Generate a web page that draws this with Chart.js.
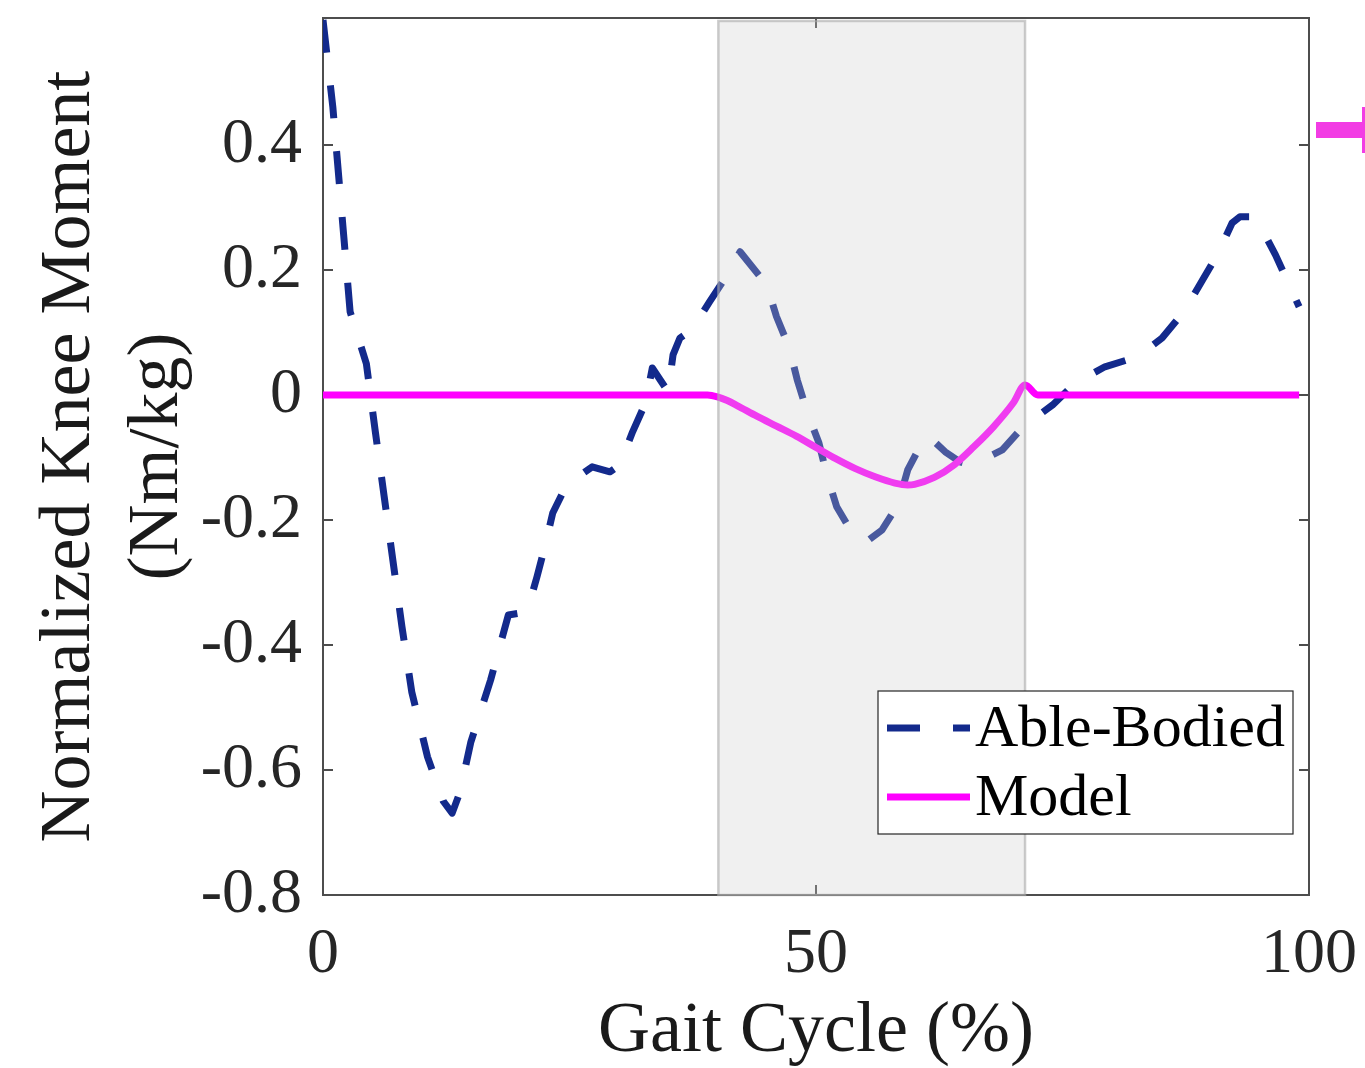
<!DOCTYPE html>
<html>
<head>
<meta charset="utf-8">
<title>Normalized Knee Moment</title>
<script src="https://cdn.jsdelivr.net/npm/chart.js@4.4.1/dist/chart.umd.min.js"></script>
<style>
  html, body { margin: 0; padding: 0; background: #fff; }
  canvas { display: block; }
</style>
</head>
<body>
<canvas id="chart" width="1365" height="1068"></canvas>
<script>
// knee moment over the gait cycle
const ableX = [0, 1.0, 2.1, 2.75, 4.4, 5.3, 6.2, 7.1, 8.0, 9.0, 10.6, 12.2, 13.1, 13.9, 15.0, 17.0,
  18.8, 20.7, 21.7, 22.5, 23.3, 24.7, 27.3, 29.1, 30.1, 31.4, 32.7, 33.4, 35.0, 35.5, 36.2, 37.4,
  39.2, 41.0, 42.3, 45.0, 46.0, 47.3, 48.1, 49.1, 50.3, 51.1, 52.1, 53.8, 55.1, 56.7, 58.3, 59.3,
  60.8, 61.4, 63.1, 64.6, 65.8, 68.9, 71.0, 74.0, 76.3, 79.3, 82.6, 85.1, 87.3, 89.1, 90.8, 92.2,
  93.0, 94.5, 95.0, 96.6, 97.9, 99.0];
const ableY = [0.600, 0.460, 0.255, 0.133, 0.050, -0.058, -0.162, -0.266, -0.370, -0.475, -0.579, -0.650, -0.669, -0.635, -0.555, -0.456,
  -0.352, -0.347, -0.291, -0.243, -0.189, -0.144, -0.115, -0.123, -0.112, -0.059, -0.013, 0.043, 0.005, 0.064, 0.091, 0.104,
  0.149, 0.192, 0.229, 0.176, 0.125, 0.075, 0.024, -0.027, -0.077, -0.128, -0.179, -0.224, -0.235, -0.216, -0.176, -0.120,
  -0.075, -0.066, -0.091, -0.107, -0.112, -0.088, -0.051, -0.016, 0.019, 0.045, 0.061, 0.091, 0.133, 0.181, 0.227, 0.275,
  0.285, 0.285, 0.272, 0.224, 0.179, 0.141];

const modelX = [0, 39, 40, 41, 42, 44, 46, 48, 50, 52, 54, 56, 58, 59.3, 60, 62, 64, 66, 68, 70, 71.2, 72.5, 99];
const modelY = [0, 0, -0.003, -0.009, -0.017, -0.034, -0.050, -0.066, -0.084, -0.102, -0.118, -0.131, -0.141, -0.144,
  -0.143, -0.132, -0.112, -0.083, -0.051, -0.013, 0.016, 0, 0];

const xTicks = [0, 50, 100];
const yTicks = [-0.8, -0.6, -0.4, -0.2, 0, 0.2, 0.4];
const shadedSpan = [40.1, 71.2];   // grey band, % gait cycle

const serif = '"Liberation Serif", "Times New Roman", serif';
const axisGrey = '#4d4d4d';

// axes box + inward ticks, drawn under the data like matlab does
const axesBox = {
  id: 'axesBox',
  beforeDatasetsDraw(chart) {
    const { ctx, chartArea: a, scales } = chart;
    ctx.save();
    ctx.strokeStyle = axisGrey;
    ctx.lineWidth = 2;
    ctx.strokeRect(a.left, a.top, a.right - a.left, a.bottom - a.top);
    ctx.beginPath();
    yTicks.forEach(v => {
      const p = scales.y.getPixelForValue(v);
      ctx.moveTo(a.left, p); ctx.lineTo(a.left + 10, p);
      ctx.moveTo(a.right, p); ctx.lineTo(a.right - 10, p);
    });
    xTicks.forEach(v => {
      const p = scales.x.getPixelForValue(v);
      ctx.moveTo(p, a.bottom); ctx.lineTo(p, a.bottom - 10);
      ctx.moveTo(p, a.top); ctx.lineTo(p, a.top + 10);
    });
    ctx.stroke();
    ctx.restore();
  }
};

const shade = {
  id: 'shade',
  afterDatasetsDraw(chart) {
    const { ctx, chartArea: a, scales } = chart;
    const x1 = scales.x.getPixelForValue(shadedSpan[0]);
    const x2 = scales.x.getPixelForValue(shadedSpan[1]);
    const top = a.top + 3;
    ctx.save();
    ctx.fillStyle = 'rgba(204,204,204,0.294)';
    ctx.fillRect(x1, top, x2 - x1, a.bottom - top);
    ctx.strokeStyle = 'rgba(170,170,170,0.6)';
    ctx.lineWidth = 2.5;
    ctx.strokeRect(x1, top, x2 - x1, a.bottom - top);
    ctx.restore();
  }
};

const legendBox = {
  id: 'legendBox',
  afterDraw(chart) {
    const ctx = chart.ctx;
    const ds = chart.data.datasets;
    const bx = 878, by = 691, bw = 415, bh = 143;
    ctx.save();
    ctx.fillStyle = '#fff';
    ctx.fillRect(bx, by, bw, bh);
    ctx.strokeStyle = '#262626';
    ctx.lineWidth = 1.2;
    ctx.strokeRect(bx, by, bw, bh);
    const rows = [728, 797];
    ds.forEach((d, i) => {
      const y = rows[i];
      ctx.beginPath();
      ctx.setLineDash(d.borderDash || []);
      ctx.lineCap = 'butt';
      ctx.strokeStyle = d.borderColor;
      ctx.lineWidth = 7;
      ctx.moveTo(887, y);
      ctx.lineTo(970, y);
      ctx.stroke();
      ctx.setLineDash([]);
      ctx.fillStyle = '#000';
      ctx.font = '60px ' + serif;
      ctx.textBaseline = 'middle';
      ctx.textAlign = 'left';
      ctx.fillText(d.label, 975, y + 2);
    });
    // clipped piece of the neighbouring panel at the right edge
    ctx.fillStyle = '#f23ce4';
    ctx.fillRect(1316, 122, 47, 16);
    ctx.fillRect(1362, 107, 3, 46);
    ctx.restore();
  }
};

new Chart(document.getElementById('chart'), {
  type: 'line',
  data: {
    datasets: [
      {
        label: 'Able-Bodied',
        data: ableX.map((x, i) => ({ x: x, y: ableY[i] })),
        borderColor: '#132a8c',
        borderWidth: 7,
        borderDash: [33, 33],
        borderCapStyle: 'butt',
        borderJoinStyle: 'round',
        pointRadius: 0,
        tension: 0,
        order: 1
      },
      {
        label: 'Model',
        data: modelX.map((x, i) => ({ x: x, y: modelY[i] })),
        borderColor: '#ff00ff',
        borderWidth: 7,
        borderJoinStyle: 'round',
        pointRadius: 0,
        cubicInterpolationMode: 'monotone',
        order: 0
      }
    ]
  },
  options: {
    responsive: false,
    animation: false,
    devicePixelRatio: 1,
    layout: { padding: { top: 18, right: 56, left: 0, bottom: 0 } },
    plugins: { legend: { display: false }, tooltip: { enabled: false } },
    scales: {
      x: {
        type: 'linear',
        min: 0,
        max: 100,
        afterBuildTicks: s => { s.ticks = xTicks.map(v => ({ value: v })); },
        afterFit: s => { s.height = 173; s.paddingLeft = 0; s.paddingRight = 0; },
        grid: { display: false, drawTicks: false },
        border: { display: false },
        ticks: {
          color: '#262626',
          font: { family: serif, size: 64 },
          padding: 22,
          maxRotation: 0,
          callback: v => String(v)
        },
        title: {
          display: true,
          text: 'Gait Cycle (%)',
          color: '#1a1a1a',
          font: { family: serif, size: 72, lineHeight: 1.0 },
          padding: { top: 0, bottom: 0 }
        }
      },
      y: {
        type: 'linear',
        min: -0.8,
        max: 0.603,
        afterBuildTicks: s => { s.ticks = yTicks.map(v => ({ value: v })); },
        afterFit: s => { s.width = 323; s.paddingTop = 0; s.paddingBottom = 0; },
        grid: { display: false, drawTicks: false },
        border: { display: false },
        ticks: {
          color: '#262626',
          font: { family: serif, size: 64 },
          padding: 21,
          callback: v => (v === 0 ? '0' : v.toFixed(1))
        },
        title: {
          display: true,
          text: ['Normalized Knee Moment', '(Nm/kg)'],
          color: '#1a1a1a',
          font: { family: serif, size: 72, lineHeight: 1.2222 },
          padding: { top: 26, bottom: 0 }
        }
      }
    }
  },
  plugins: [axesBox, shade, legendBox]
});
</script>
</body>
</html>
